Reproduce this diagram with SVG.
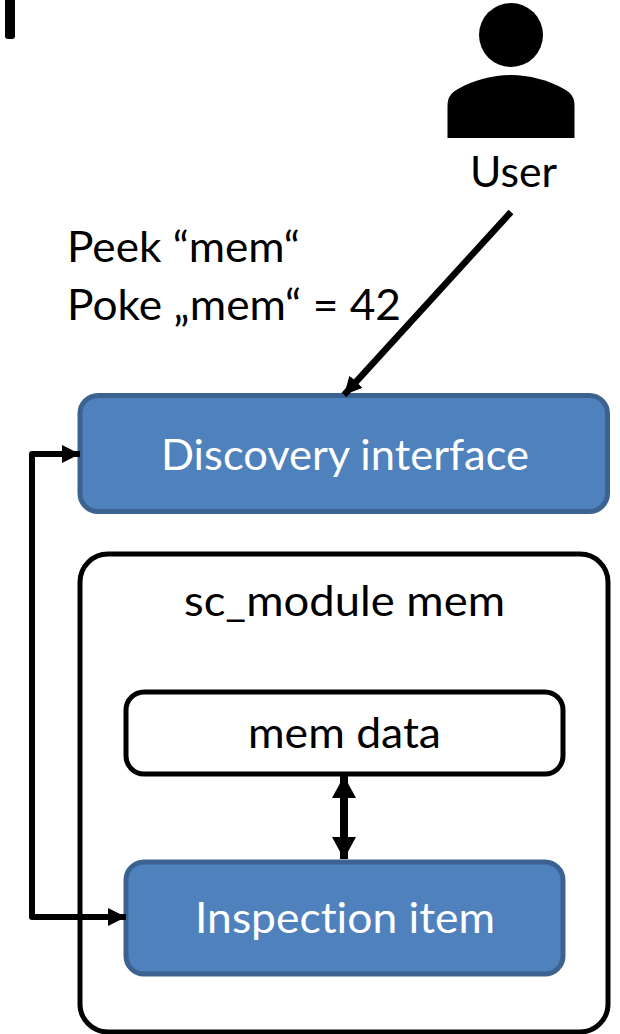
<svg xmlns="http://www.w3.org/2000/svg" width="620" height="1034" viewBox="0 0 620 1034">
<defs>
<style>
text{font-family:"Lato","Open Sans",sans-serif;font-size:43px;fill:#000;font-variant-ligatures:none}
.w{fill:#fff}
.blue{fill:#4f81bd;stroke:#3c6291;stroke-width:5}
.box{fill:#fff;stroke:#000;stroke-width:5}
.ln{fill:none;stroke:#000;stroke-width:6;stroke-linejoin:round}
</style>
<marker id="ah" markerUnits="userSpaceOnUse" markerWidth="18" markerHeight="18" refX="20" refY="10" orient="auto-start-reverse" viewBox="0 0 20 20"><path d="M0 0L20 10L0 20Z" fill="#000"/></marker>
<marker id="ah2" markerUnits="userSpaceOnUse" markerWidth="22" markerHeight="24" refX="20" refY="10" orient="auto-start-reverse" viewBox="0 0 20 20" preserveAspectRatio="none"><path d="M0 0L20 10L0 20Z" fill="#000"/></marker>
</defs>
<rect width="620" height="1034" fill="#fff"/>
<path id="stub" d="M5 0H15V36Q15 39 12 39H8Q5 39 5 36Z" fill="#000"/>
<g id="user">
<ellipse cx="511" cy="35" rx="32" ry="32"/>
<path d="M447.500 138V106C447.500 97 451 93 458 89C474 80 493 75 511 75C529 75 548 80 564 89C571 93 574.500 97 574.500 106V138Z"/>
<text x="470" y="187" textLength="87" lengthAdjust="spacingAndGlyphs">User</text>
</g>
<g id="label"><text x="67" y="262" textLength="233" lengthAdjust="spacingAndGlyphs">Peek “mem“</text><text x="67" y="320" textLength="334" lengthAdjust="spacingAndGlyphs">Poke „mem“ = 42</text></g>
<g id="discovery"><rect class="blue" x="80" y="395.500" width="527.500" height="116" rx="18"/><text class="w" x="161" y="470" textLength="368" lengthAdjust="spacingAndGlyphs">Discovery interface</text></g>
<g id="module"><rect class="box" x="80" y="554" width="528" height="478" rx="28"/><text x="184" y="616" textLength="321" lengthAdjust="spacingAndGlyphs">sc_module mem</text></g>
<g id="memdata"><rect class="box" x="126" y="692" width="437" height="82" rx="18"/><text x="248" y="748" textLength="193" lengthAdjust="spacingAndGlyphs">mem data</text></g>
<g id="inspection"><rect class="blue" x="126" y="862" width="437" height="112" rx="18"/><text class="w" x="195" y="933" textLength="300" lengthAdjust="spacingAndGlyphs">Inspection item</text></g>
<g id="connectors">
<path class="ln" style="stroke-width:6.500" d="M511 212L344 395" marker-end="url(#ah)"/>
<path class="ln" d="M80 454H32V917H126" marker-end="url(#ah)" marker-start="url(#ah)"/>
<path class="ln" style="stroke-width:8" d="M344 776V859" marker-start="url(#ah2)" marker-end="url(#ah2)"/>
</g>
</svg>
